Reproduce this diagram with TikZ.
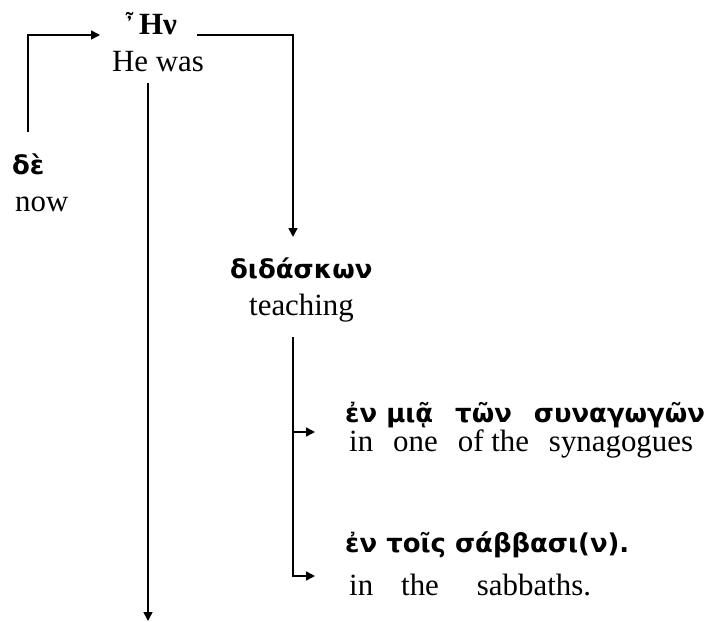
\documentclass[tikz,border=0pt]{standalone}
\usepackage{fontspec}
\setmainfont{Liberation Serif}
\newfontfamily\grk{DejaVu Sans}
\newfontfamily\dvserif{DejaVu Serif}
\usetikzlibrary{arrows.meta}
\begin{document}
\begin{tikzpicture}[x=1bp,y=-1bp,
  txt/.style={anchor=base west,inner sep=0pt,font=\fontsize{31}{33}\selectfont},
  gr/.style={anchor=base west,inner sep=0pt,font=\fontsize{26}{28}\selectfont\grk\bfseries},
  conn/.style={line width=1.6bp,-{Triangle[length=9bp,width=9bp]}}]
\useasboundingbox (0,0) rectangle (708,622);
\node[txt] (hn) at (124,35) {{\dvserif\bfseries\fontsize{22}{24}\selectfont ῏}\hspace{4bp}\textbf{Ην}};
\node[txt] (hewas) at (112,72) {He was};
\node[gr] (de) at (12,175) {δὲ};
\node[txt] (now) at (15,212) {now};
\node[gr] (didaskon) at (230,278) {διδάσκων};
\node[txt] (teaching) at (249,315) {teaching};
\node[gr] (g1) at (345,422) {ἐν μιᾷ\hspace{22bp}τῶν\hspace{22bp}συναγωγῶν};
\node[txt] (e1) at (349,451) {in\hspace{20bp}one\hspace{20bp}of the\hspace{20bp}synagogues};
\node[gr] (g2) at (345,552) {ἐν\hspace{9bp}τοῖς\hspace{9bp}σάββασι(ν).};
\node[txt] (e2) at (349,595) {in\hspace{28bp}the\hspace{38bp}sabbaths.};
\coordinate (deTop) at (28,132);
\coordinate (hnIn) at (100,35);
\coordinate (hnOut) at (197,35);
\coordinate (didIn) at (293,237);
\coordinate (wasOut) at (148,83);
\coordinate (mainEnd) at (148,621);
\coordinate (teachOut) at (293,337);
\coordinate (g1In) at (315,432);
\coordinate (g2In) at (315,576);
\draw[conn] (deTop) |- (hnIn);
\draw[conn] (hnOut) -| (didIn);
\draw[conn] (wasOut) -- (mainEnd);
\draw[conn] (teachOut) |- (g1In);
\draw[conn] (teachOut) |- (g2In);
\end{tikzpicture}
\end{document}
